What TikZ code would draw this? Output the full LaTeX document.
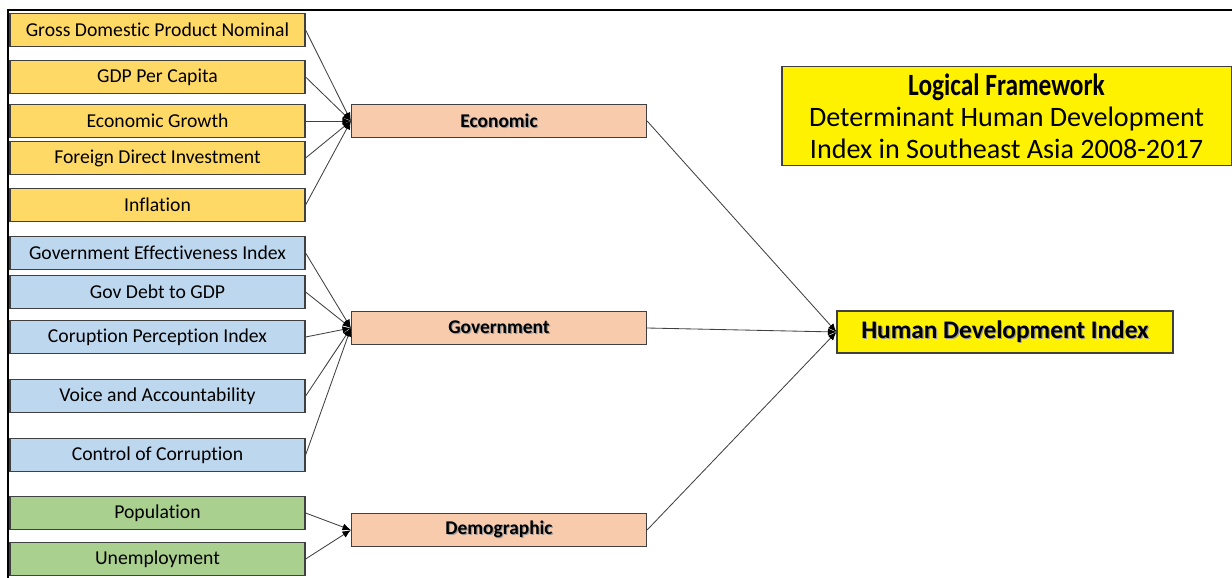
\documentclass[tikz,border=0pt]{standalone}
\usepackage{fontspec}
\usepackage{graphicx}
\setmainfont{Carlito}[Ligatures=NoCommon]
\usetikzlibrary{arrows.meta}

\definecolor{ecofill}{HTML}{FFD966}
\definecolor{govfill}{HTML}{BDD7EE}
\definecolor{demfill}{HTML}{A9D08E}
\definecolor{midfill}{HTML}{F8CBAD}
\definecolor{edgegray}{HTML}{404040}
\newcommand\txtshadow[1]{\rlap{\hspace{0.8pt}\raisebox{-0.8pt}{\color{black!40}#1}}#1}

\tikzset{
  varbox/.style={draw=edgegray, line width=0.8pt, minimum width=7.375cm, minimum height=0.83cm, inner sep=0pt, font=\fontsize{14}{16}\selectfont},
  midbox/.style={varbox, fill=midfill, font=\fontsize{13.8}{16}\selectfont\bfseries},
  link/.style={draw=black!75, line width=0.6pt, -{Latex[length=6pt,width=5pt,black]}},
}

\begin{document}
\begin{tikzpicture}[x=0.025cm, y=-0.025cm]
    \useasboundingbox (0,0) rectangle (1232,578);
    \draw[line width=1.6pt] (8,578) -- (8,10) -- (1232,10);
    % groups in the middle
    \node[midbox] (eco) at (499,121) {\txtshadow{Economic}};
    \node[midbox] (gov) at (499,328) {\txtshadow{Government}};
    \node[midbox] (dem) at (499,530) {\txtshadow{Demographic}};
    \node[varbox, fill=yellow, minimum width=8.4cm, minimum height=1.05cm, font=\fontsize{18}{20}\selectfont\bfseries] (hdi) at (1005,332) {\txtshadow{Human Development Index}};
    % title
    \node[varbox, fill=yellow, minimum width=11.225cm, minimum height=2.475cm, align=center, font=\fontsize{20}{22.5}\selectfont] (title) at (1006.5,116)
        {{\fontsize{22}{22.5}\selectfont\bfseries\scalebox{0.82}[1]{Logical Framework}}\\Determinant Human Development\\Index in Southeast Asia 2008-2017};
    % variables
    \foreach \y/\n/\t in {30/gdp/Gross Domestic Product Nominal, 77/gdpcap/GDP Per Capita, 121/growth/Economic Growth, 158/fdi/Foreign Direct Investment, 205/infl/Inflation} {
        \node[varbox, fill=ecofill] (\n) at (157.5,\y) {\t};
        \draw[link] (\n.east) -- (eco.west);
    }
    \foreach \y/\n/\t in {253/gei/Government Effectiveness Index, 292/debt/Gov Debt to GDP, 337/cpi/Coruption Perception Index, 396/voice/Voice and Accountability, 455/coc/Control of Corruption} {
        \node[varbox, fill=govfill] (\n) at (157.5,\y) {\t};
        \draw[link] (\n.east) -- (gov.west);
    }
    \foreach \y/\n/\t in {513/pop/Population, 559/unemp/Unemployment} {
        \node[varbox, fill=demfill] (\n) at (157.5,\y) {\t};
        \draw[link] (\n.east) -- (dem.west);
    }
    \foreach \n in {eco,gov,dem} {
        \draw[link] (\n.east) -- (hdi.west);
    }
\end{tikzpicture}
\end{document}
